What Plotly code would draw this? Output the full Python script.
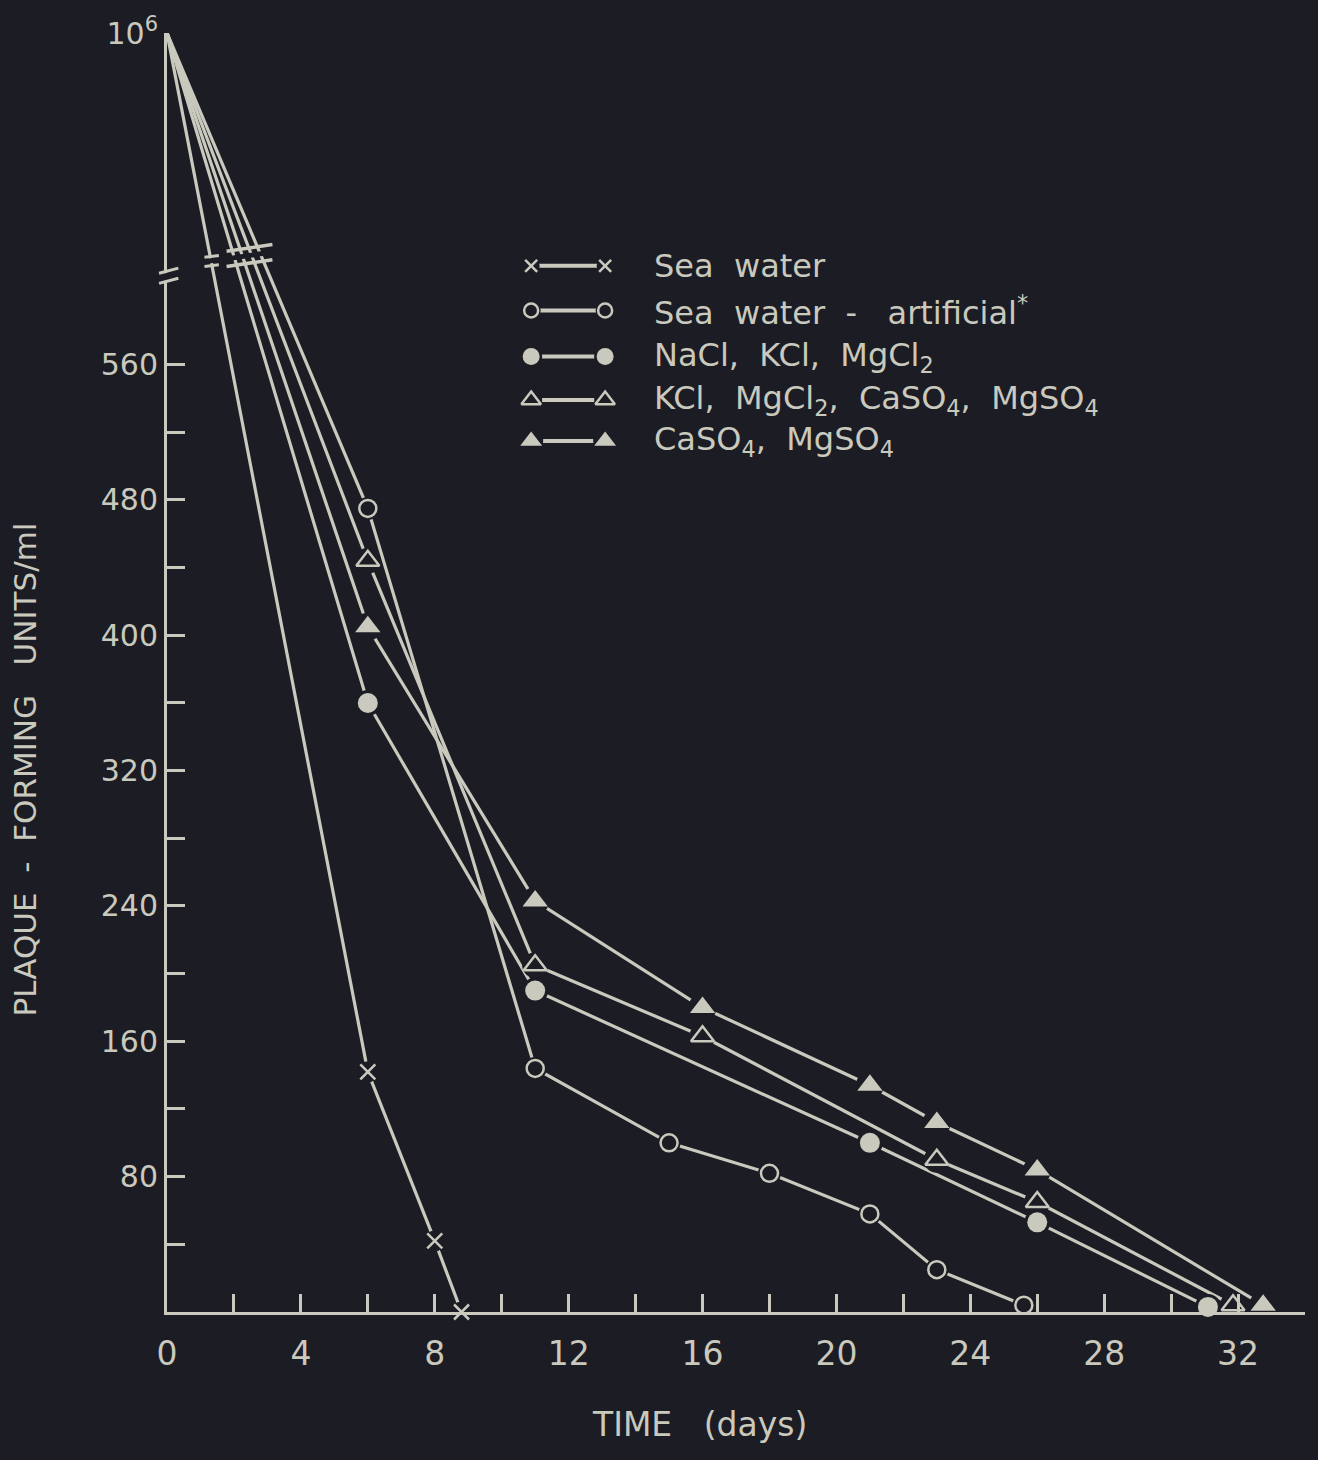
import plotly.graph_objects as go

# ---------------- data ----------------
days_sea = [0, 6, 8, 8.8]
pfu_sea = [1e6, 142, 42, 0]

days_art = [0, 6, 11, 15, 18, 21, 23, 25.6]
pfu_art = [1e6, 475, 144, 100, 82, 58, 25, 4]

days_nacl = [0, 6, 11, 21, 26, 31.1]
pfu_nacl = [1e6, 360, 190, 100, 53, 3]

days_kcl = [0, 6, 11, 16, 23, 26, 31.85]
pfu_kcl = [1e6, 444, 205, 163, 90, 65, 4]

days_caso4 = [0, 6, 11, 16, 21, 23, 26, 32.75]
pfu_caso4 = [1e6, 405, 243, 180, 134, 112, 84, 4]

series_names = [
    "Sea  water",
    "Sea  water  -   artificial<sup>*</sup>",
    "NaCl,  KCl,  MgCl<sub>2</sub>",
    "KCl,  MgCl<sub>2</sub>,  CaSO<sub>4</sub>,  MgSO<sub>4</sub>",
    "CaSO<sub>4</sub>,  MgSO<sub>4</sub>",
]

y_major_ticks = [80, 160, 240, 320, 400, 480, 560]
y_minor_ticks = [40, 120, 200, 280, 360, 440, 520]
top_value = 1e6
top_label = "10<sup>6</sup>"

# ---------------- broken y-axis mapping ----------------
BREAK_LOW = 620      # linear part of the axis ends here
TOP_POS = 756        # axis position where 10^6 is drawn


def to_axis(v):
    return v if v <= BREAK_LOW else TOP_POS


BG = "#1c1c25"
FG = "#c9c9bd"
FONT = "DejaVu Sans"

styles = [
    dict(symbol="x-thin", size=15, color=FG, line=dict(color=FG, width=2.5), halo=21),
    dict(symbol="circle", size=17, color=BG, line=dict(color=FG, width=2.5), halo=23),
    dict(symbol="circle", size=20, color=FG, line=dict(color=FG, width=0), halo=26),
    dict(symbol="triangle-up", size=20, color=BG, line=dict(color=FG, width=2.5), halo=26),
    dict(symbol="triangle-up", size=22, color=FG, line=dict(color=FG, width=0), halo=28),
]

all_series = [
    (days_sea, pfu_sea),
    (days_art, pfu_art),
    (days_nacl, pfu_nacl),
    (days_kcl, pfu_kcl),
    (days_caso4, pfu_caso4),
]

fig = go.Figure()

# lines
for (d, p), name in zip(all_series, series_names):
    fig.add_trace(go.Scatter(
        x=d, y=[to_axis(v) for v in p], mode="lines",
        line=dict(color=FG, width=3.2), name=name, showlegend=False,
        hoverinfo="skip", cliponaxis=False,
    ))

# halos (gaps in the lines around markers)
for (d, p), st in zip(all_series, styles):
    fig.add_trace(go.Scatter(
        x=d[1:], y=[to_axis(v) for v in p[1:]], mode="markers",
        marker=dict(symbol="circle", size=st["halo"], color=BG, line=dict(width=0)),
        showlegend=False, hoverinfo="skip", cliponaxis=False,
    ))

# markers
for (d, p), st, name in zip(all_series, styles, series_names):
    fig.add_trace(go.Scatter(
        x=d[1:], y=[to_axis(v) for v in p[1:]], mode="markers",
        marker=dict(symbol=st["symbol"], size=st["size"], color=st["color"], line=st["line"]),
        name=name, showlegend=False, cliponaxis=False,
    ))

# ---------------- custom legend (marker—line—marker) ----------------
leg_rows = [0.818, 0.783, 0.747, 0.713, 0.681]
leg_x0, leg_x1, leg_text_x = 0.320, 0.385, 0.426
for row_y, st, name in zip(leg_rows, styles, series_names):
    fig.add_trace(go.Scatter(
        x=[leg_x0, leg_x1], y=[row_y, row_y], mode="lines",
        line=dict(color=FG, width=4), xaxis="x2", yaxis="y2",
        showlegend=False, hoverinfo="skip",
    ))
    fig.add_trace(go.Scatter(
        x=[leg_x0, leg_x1], y=[row_y, row_y], mode="markers",
        marker=dict(symbol="circle", size=st["halo"] - 4, color=BG),
        xaxis="x2", yaxis="y2", showlegend=False, hoverinfo="skip",
    ))
    fig.add_trace(go.Scatter(
        x=[leg_x0, leg_x1], y=[row_y, row_y], mode="markers",
        marker=dict(symbol=st["symbol"], size=st["size"] - 3, color=st["color"], line=st["line"]),
        xaxis="x2", yaxis="y2", showlegend=False, hoverinfo="skip",
    ))
    fig.add_annotation(
        x=leg_text_x, y=row_y, xref="x2", yref="y2", text=name,
        showarrow=False, xanchor="left", yanchor="middle",
        font=dict(family=FONT, size=32, color=FG),
    )

# ---------------- axis titles ----------------
fig.add_annotation(
    x=-0.125, y=0.424, xref="paper", yref="paper", text="PLAQUE  -  FORMING   UNITS/ml",
    textangle=-90, showarrow=False, xanchor="center", yanchor="middle",
    font=dict(family=FONT, size=31, color=FG),
)
fig.add_annotation(
    x=0.468, y=-0.088, xref="paper", yref="paper", text="TIME   (days)",
    showarrow=False, xanchor="center", yanchor="middle",
    font=dict(family=FONT, size=33, color=FG),
)

# ---------------- axis-break marks ----------------
shapes = []
# on the y axis
shapes.append(dict(type="line", xref="paper", yref="y", x0=-0.006, x1=0.009,
                   y0=611, y1=614, line=dict(color=BG, width=7), layer="above"))
for yy in (609.5, 615.5):
    shapes.append(dict(type="line", xref="paper", yref="y", x0=-0.007, x1=0.010,
                       y0=yy - 1.5, y1=yy + 1.5, line=dict(color=FG, width=3), layer="above"))
# on the sea-water line
shapes.append(dict(type="line", xref="x", yref="y", x0=1.12, x1=1.55, y0=620.5, y1=622.5,
                   line=dict(color=BG, width=5), layer="above"))
for yy in (618.5, 624.0):
    shapes.append(dict(type="line", xref="x", yref="y", x0=1.12, x1=1.55, y0=yy - 0.5, y1=yy + 0.5,
                       line=dict(color=FG, width=3), layer="above"))
# across the four grouped lines
shapes.append(dict(type="line", xref="x", yref="y", x0=1.78, x1=3.15, y0=622.5, y1=626.5,
                   line=dict(color=BG, width=5), layer="above"))
for yy in (620.0, 629.0):
    shapes.append(dict(type="line", xref="x", yref="y", x0=1.78, x1=3.15, y0=yy - 2, y1=yy + 2,
                       line=dict(color=FG, width=3.5), layer="above"))

fig.update_layout(
    width=1318, height=1460, autosize=False,
    margin=dict(l=167, r=13, t=30, b=148),
    paper_bgcolor=BG, plot_bgcolor=BG,
    shapes=shapes,
    xaxis=dict(
        range=[0, 34], tick0=0, dtick=4,
        ticks="inside", ticklen=18, tickwidth=2.5, tickcolor=FG,
        minor=dict(tick0=0, dtick=2, ticks="inside", ticklen=18, tickwidth=2.5, tickcolor=FG),
        ticklabelstandoff=10,
        showline=True, linewidth=3, linecolor=FG,
        showgrid=False, zeroline=False,
        tickfont=dict(family=FONT, size=33, color=FG),
    ),
    yaxis=dict(
        range=[0, TOP_POS],
        tickmode="array",
        tickvals=y_major_ticks + [to_axis(top_value)],
        ticktext=[str(v) for v in y_major_ticks] + [top_label],
        ticks="inside", ticklen=18, tickwidth=2.5, tickcolor=FG,
        minor=dict(tickmode="array", tickvals=y_minor_ticks, ticks="inside",
                   ticklen=18, tickwidth=2.5, tickcolor=FG),
        showline=True, linewidth=3, linecolor=FG,
        showgrid=False, zeroline=False,
        tickfont=dict(family=FONT, size=30, color=FG),
    ),
    xaxis2=dict(range=[0, 1], overlaying="x", visible=False, fixedrange=True),
    yaxis2=dict(range=[0, 1], overlaying="y", visible=False, fixedrange=True),
    showlegend=False,
)

fig.write_html("out.html")
